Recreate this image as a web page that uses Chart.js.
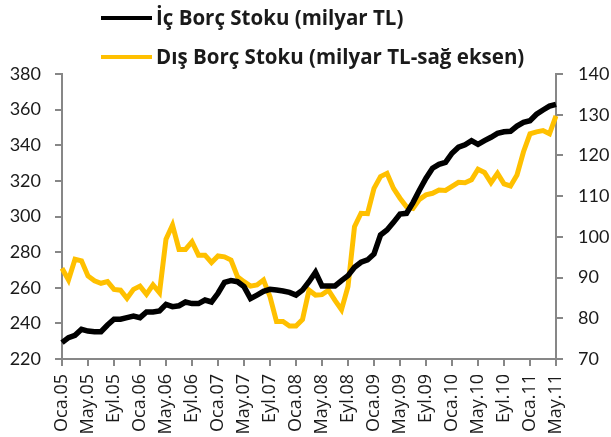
<!DOCTYPE html>
<html>
<head>
<meta charset="utf-8">
<script src="https://cdn.jsdelivr.net/npm/chart.js@4.4.1/dist/chart.umd.min.js"></script>
<style>
  html, body { margin: 0; padding: 0; background: #fff; }
</style>
</head>
<body>
<canvas id="chart" width="611" height="437"></canvas>
<script>
// İç / Dış borç stoku, aylık (Oca.05 - May.11)

const monthNames = ['Oca', 'Şub', 'Mar', 'Nis', 'May', 'Haz', 'Tem', 'Ağu', 'Eyl', 'Eki', 'Kas', 'Ara'];
const years = ['05', '06', '07', '08', '09', '10', '11'];
const lastYearMonths = 5;

const seriesLabels = ['İç Borç Stoku (milyar TL)', 'Dış Borç Stoku (milyar TL-sağ eksen)'];

// milyar TL, sol eksen
const icBorc = [
    229.2, 232, 233.3, 236.7, 235.7, 235.3, 235.3, 239.1, 242.3, 242.3, 243.2, 244.1,
    243.2, 246.4, 246.4, 247, 250.7, 249.4, 249.9, 252, 251.1, 251.1, 253.1, 252,
    256.9, 263, 264, 263.4, 260.6, 253.9, 255.9, 258, 259.1, 258.7, 258.2, 257.4,
    255.9, 258.7, 263.4, 268.7, 261, 261, 261, 264, 266.8, 271.5, 274.3, 275.6,
    279, 289.6, 292.4, 296.7, 301.4, 301.8, 307.8, 314.9, 321.5, 327.1, 329.3, 330.4,
    335.5, 338.9, 340.3, 342.6, 340.5, 342.6, 344.5, 346.7, 347.6, 347.8, 350.8, 352.9,
    353.8, 357.4, 359.8, 362, 363
];

// milyar TL, sağ eksen
const disBorc = [
    92.3, 89.4, 94.5, 94.1, 90.4, 89.2, 88.6, 89, 87.1, 86.9, 84.9, 87.1,
    87.9, 85.9, 88.2, 86.3, 99.4, 102.9, 96.9, 96.9, 98.8, 95.5, 95.5, 93.7,
    95.3, 95.1, 94.3, 90.2, 89, 87.9, 88.2, 89.4, 85.3, 79.2, 79.2, 78.1,
    78.1, 79.7, 86.9, 85.7, 85.8, 86.9, 84.4, 82.1, 87.8, 102.5, 105.8, 105.7,
    111.9, 114.8, 115.6, 111.9, 109.5, 107.4, 107, 109.2, 110.3, 110.7, 111.5, 111.4,
    112.4, 113.4, 113.3, 114, 116.6, 115.8, 113.3, 115.6, 113, 112.5, 115.2, 120.9,
    125.3, 125.8, 126.1, 125.3, 129.7
];

const leftTicks = { min: 220, max: 380, step: 20 };
const rightTicks = { min: 70, max: 140, step: 10 };

const labels = [];
years.forEach((y, yi) => {
    const n = yi === years.length - 1 ? lastYearMonths : 12;
    for (let m = 0; m < n; m++) labels.push(monthNames[m] + '.' + y);
});

const axisGray = '#878787';
const textColor = '#1a1a1a';
const FONT = "Lato, 'Open Sans', sans-serif";
const LEGEND_FONT = "'Open Sans', Lato, sans-serif";

// two-row legend at top left, like the Excel original
const stackedLegend = {
    id: 'stackedLegend',
    afterDraw(chart) {
        const ctx = chart.ctx;
        const rows = [18, 57];
        ctx.save();
        chart.data.datasets.forEach((ds, i) => {
            const y = rows[i];
            ctx.strokeStyle = ds.borderColor;
            ctx.lineWidth = 4;
            ctx.beginPath();
            ctx.moveTo(101, y);
            ctx.lineTo(152, y);
            ctx.stroke();
            ctx.fillStyle = textColor;
            ctx.font = 'bold 20.5px ' + LEGEND_FONT;
            ctx.textBaseline = 'middle';
            ctx.textAlign = 'left';
            ctx.fillText(ds.label, 156, y + 1);
        });
        ctx.restore();
    },
};

new Chart(document.getElementById('chart'), {
    type: 'line',
    data: {
        labels: labels,
        datasets: [
            {
                label: seriesLabels[0],
                data: icBorc,
                borderColor: '#000000',
                backgroundColor: '#000000',
                borderWidth: 5.5,
                pointRadius: 0,
                tension: 0,
                yAxisID: 'y',
            },
            {
                label: seriesLabels[1],
                data: disBorc,
                borderColor: '#FFC000',
                backgroundColor: '#FFC000',
                borderWidth: 5,
                pointRadius: 0,
                tension: 0,
                yAxisID: 'y1',
            },
        ],
    },
    options: {
        responsive: false,
        animation: false,
        layout: { padding: { top: 74, left: 0, right: 0, bottom: 0 } },
        plugins: {
            legend: { display: false },
            tooltip: { enabled: false },
        },
        scales: {
            x: {
                type: 'category',
                offset: false,
                ticks: {
                    autoSkip: false,
                    minRotation: 90,
                    maxRotation: 90,
                    padding: 8,
                    color: textColor,
                    font: { family: LEGEND_FONT, size: 18 },
                    callback: function (v, i) {
                        return i % 4 === 0 ? this.getLabelForValue(v) : '';
                    },
                },
                grid: {
                    drawOnChartArea: false,
                    drawTicks: true,
                    tickLength: 7,
                    lineWidth: 2,
                    color: (c) => (c.index % 4 === 0 ? axisGray : 'rgba(0,0,0,0)'),
                },
                border: { color: axisGray, width: 2 },
                afterFit: (s) => { s.height = 78; },
            },
            y: {
                position: 'left',
                min: leftTicks.min,
                max: leftTicks.max,
                ticks: {
                    stepSize: leftTicks.step,
                    padding: 14,
                    color: textColor,
                    font: { family: FONT, size: 18 },
                },
                grid: {
                    drawOnChartArea: false,
                    tickLength: 7,
                    lineWidth: 2,
                    color: axisGray,
                },
                border: { color: axisGray, width: 2 },
                afterFit: (s) => { s.width = 62; },
            },
            y1: {
                position: 'right',
                min: rightTicks.min,
                max: rightTicks.max,
                ticks: {
                    stepSize: rightTicks.step,
                    padding: 15,
                    color: textColor,
                    font: { family: FONT, size: 18 },
                },
                grid: {
                    drawOnChartArea: false,
                    tickLength: 7,
                    lineWidth: 2,
                    color: axisGray,
                },
                border: { color: axisGray, width: 2 },
                afterFit: (s) => { s.width = 55; },
            },
        },
    },
    plugins: [stackedLegend],
});
</script>
</body>
</html>
